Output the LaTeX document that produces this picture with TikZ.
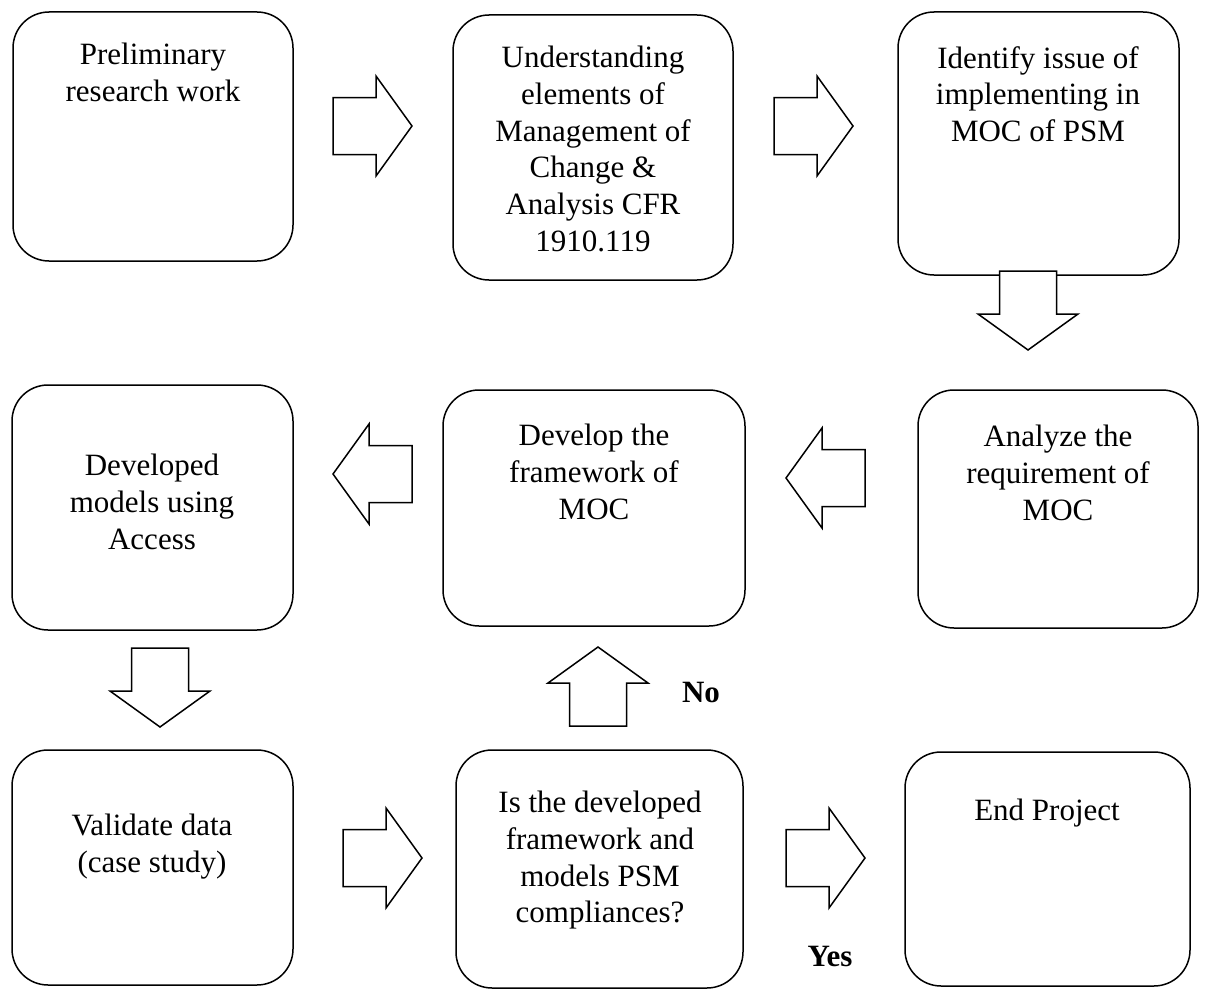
\documentclass[tikz,border=0pt]{standalone}
\usepackage{fontspec}
\setmainfont{Liberation Serif}
\begin{document}
\begin{tikzpicture}[x=1pt,y=-1pt,
  box/.style={draw,line width=1.5pt,rounded corners=36pt,inner sep=0pt},
  txt/.style={anchor=north,inner sep=0pt,align=center,font=\fontsize{31}{36.7}\selectfont},
  lbl/.style={inner sep=0pt,font=\fontsize{31}{36}\selectfont\bfseries},
  blk/.style={draw,line width=1.5pt,fill=white,line join=miter},
  pics/barrow/.style={code={\draw[blk] (0,0) -- (-36,-50) -- (-36,-28.5) -- (-79,-28.5) -- (-79,28.5) -- (-36,28.5) -- (-36,50) -- cycle;}}
]
\useasboundingbox (0,0) rectangle (1221,990);

% boxes
\node[box,minimum width=280pt,minimum height=249pt] (A) at (153,136.5) {};
\node[box,minimum width=280pt,minimum height=265pt] (B) at (593,147.5) {};
\node[box,minimum width=281pt,minimum height=263pt] (C) at (1038.5,143.5) {};
\node[box,minimum width=281pt,minimum height=245pt] (D) at (152.5,507.5) {};
\node[box,minimum width=302pt,minimum height=236pt] (E) at (594,508) {};
\node[box,minimum width=280pt,minimum height=238pt] (F) at (1058,509) {};
\node[box,minimum width=281pt,minimum height=235pt] (G) at (152.5,867.5) {};
\node[box,minimum width=287pt,minimum height=238pt] (H) at (599.5,869) {};
\node[box,minimum width=285pt,minimum height=234pt] (I) at (1047.5,869) {};

% texts
\node[txt] (tA) at (153,43) {Preliminary\\research work};
\node[txt] (tB) at (593,46) {Understanding\\elements of\\Management of\\Change \&\\Analysis CFR\\1910.119};
\node[txt] (tC) at (1038,46) {Identify issue of\\implementing in\\MOC of PSM};
\node[txt] (tD) at (152,454) {Developed\\models using\\Access};
\node[txt] (tE) at (594,424) {Develop the\\framework of\\MOC};
\node[txt] (tF) at (1058,425) {Analyze the\\requirement of\\MOC};
\node[txt] (tG) at (152,814) {Validate data\\(case study)};
\node[txt] (tH) at (600,791) {Is the developed\\framework and\\models PSM\\compliances?};
\node[txt] (tI) at (1047,799) {End Project};

% block arrows
\pic at (412,126) {barrow};
\pic at (853,126) {barrow};
\pic[rotate=-90] at (1028,350) {barrow};
\pic[rotate=180] at (786,478) {barrow};
\pic[rotate=180] at (333,474) {barrow};
\pic[rotate=-90] at (160,727) {barrow};
\pic[rotate=90] at (598,647) {barrow};
\pic at (422,858) {barrow};
\pic at (865,858) {barrow};

% labels
\node[lbl] (no) at (701,692) {No};
\node[lbl] (yes) at (830,956) {Yes};
\end{tikzpicture}
\end{document}
